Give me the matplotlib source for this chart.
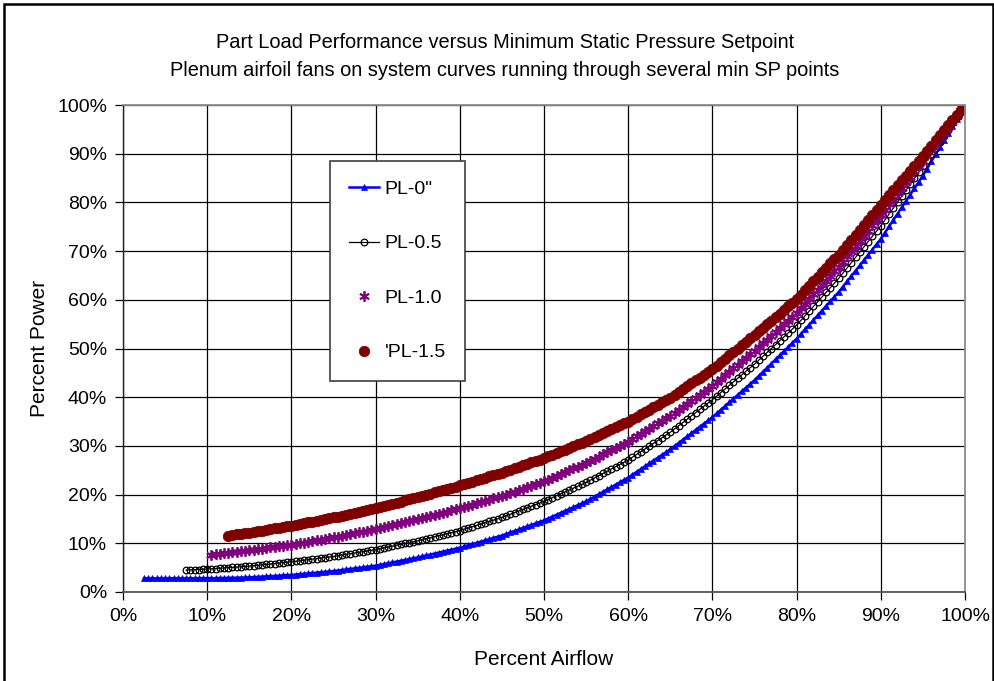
import numpy as np
import matplotlib
matplotlib.use("Agg")
import matplotlib.pyplot as plt
from matplotlib.ticker import FuncFormatter
from matplotlib.patches import Rectangle

plt.rcParams['font.family'] = ['Liberation Sans', 'DejaVu Sans']

# ---------------- data (percent airflow step 0.5 %, percent power) ----------------
title_lines = ["Part Load Performance versus Minimum Static Pressure Setpoint",
               "Plenum airfoil fans on system curves running through several min SP points"]
series_names = ['PL-0"', "PL-0.5", "PL-1.0", "'PL-1.5"]
airflow_start = [2.5, 7.5, 10.5, 12.5]   # first airflow point of each series (%)
airflow_step = 0.5

power_pl0 = [
    2.8, 2.8, 2.8, 2.8, 2.8, 2.8, 2.8, 2.8, 2.8, 2.8, 2.8, 2.8, 2.8, 2.8, 2.8, 2.8,
    2.82, 2.84, 2.86, 2.88, 2.9, 2.92, 2.94, 2.96, 2.98, 3.0,
    3.05, 3.1, 3.15, 3.2, 3.25, 3.3, 3.35, 3.4, 3.45, 3.5,
    3.58, 3.66, 3.74, 3.82, 3.9, 3.98, 4.06, 4.14, 4.22, 4.3,
    4.41, 4.52, 4.63, 4.74, 4.85, 4.96, 5.07, 5.18, 5.29, 5.4,
    5.57, 5.74, 5.91, 6.08, 6.25, 6.42, 6.59, 6.76, 6.93, 7.1,
    7.3, 7.5, 7.7, 7.9, 8.1, 8.3, 8.5, 8.7, 8.9, 9.1,
    9.35, 9.6, 9.85, 10.1, 10.35, 10.6, 10.85, 11.1, 11.35, 11.6,
    11.91, 12.22, 12.53, 12.84, 13.15, 13.46, 13.77, 14.08, 14.39, 14.7,
    15.09, 15.48, 15.87, 16.26, 16.65, 17.04, 17.43, 17.82, 18.21, 18.6,
    19.09, 19.58, 20.07, 20.56, 21.05, 21.54, 22.03, 22.52, 23.01, 23.5,
    24.08, 24.66, 25.24, 25.82, 26.4, 26.98, 27.56, 28.14, 28.72, 29.3,
    29.96, 30.62, 31.28, 31.94, 32.6, 33.26, 33.92, 34.58, 35.24, 35.9,
    36.66, 37.42, 38.18, 38.94, 39.7, 40.46, 41.22, 41.98, 42.74, 43.5,
    44.35, 45.2, 46.05, 46.9, 47.75, 48.6, 49.45, 50.3, 51.15, 52.0,
    52.96, 53.92, 54.88, 55.84, 56.8, 57.76, 58.72, 59.68, 60.64, 61.6,
    62.69, 63.78, 64.87, 65.96, 67.05, 68.14, 69.23, 70.32, 71.41, 72.5,
    73.8, 75.1, 76.4, 77.7, 79.0, 80.3, 81.6, 82.9, 84.2, 85.5,
    86.95, 88.4, 89.85, 91.3, 92.75, 94.2, 95.65, 97.1, 98.55, 100.0,
]

power_pl05 = [
    4.5, 4.54, 4.58, 4.62, 4.66, 4.7,
    4.76, 4.82, 4.88, 4.94, 5.0, 5.06, 5.12, 5.18, 5.24, 5.3,
    5.39, 5.48, 5.57, 5.66, 5.75, 5.84, 5.93, 6.02, 6.11, 6.2,
    6.31, 6.42, 6.53, 6.64, 6.75, 6.86, 6.97, 7.08, 7.19, 7.3,
    7.44, 7.58, 7.72, 7.86, 8.0, 8.14, 8.28, 8.42, 8.56, 8.7,
    8.88, 9.06, 9.24, 9.42, 9.6, 9.78, 9.96, 10.14, 10.32, 10.5,
    10.71, 10.92, 11.13, 11.34, 11.55, 11.76, 11.97, 12.18, 12.39, 12.6,
    12.87, 13.14, 13.41, 13.68, 13.95, 14.22, 14.49, 14.76, 15.03, 15.3,
    15.63, 15.96, 16.29, 16.62, 16.95, 17.28, 17.61, 17.94, 18.27, 18.6,
    18.99, 19.38, 19.77, 20.16, 20.55, 20.94, 21.33, 21.72, 22.11, 22.5,
    22.96, 23.42, 23.88, 24.34, 24.8, 25.26, 25.72, 26.18, 26.64, 27.1,
    27.67, 28.24, 28.81, 29.38, 29.95, 30.52, 31.09, 31.66, 32.23, 32.8,
    33.47, 34.14, 34.81, 35.48, 36.15, 36.82, 37.49, 38.16, 38.83, 39.5,
    40.23, 40.96, 41.69, 42.42, 43.15, 43.88, 44.61, 45.34, 46.07, 46.8,
    47.6, 48.4, 49.2, 50.0, 50.8, 51.6, 52.4, 53.2, 54.0, 54.8,
    55.76, 56.72, 57.68, 58.64, 59.6, 60.56, 61.52, 62.48, 63.44, 64.4,
    65.48, 66.56, 67.64, 68.72, 69.8, 70.88, 71.96, 73.04, 74.12, 75.2,
    76.42, 77.64, 78.86, 80.08, 81.3, 82.52, 83.74, 84.96, 86.18, 87.4,
    88.66, 89.92, 91.18, 92.44, 93.7, 94.96, 96.22, 97.48, 98.74, 100.0,
]

power_pl10 = [
    7.7,
    7.8, 7.9, 8.0, 8.1, 8.2, 8.3, 8.4, 8.5, 8.6,
    8.71, 8.82, 8.93, 9.04, 9.15, 9.26, 9.37, 9.48, 9.59, 9.7,
    9.85, 10.0, 10.15, 10.3, 10.45, 10.6, 10.75, 10.9, 11.05, 11.2,
    11.37, 11.54, 11.71, 11.88, 12.05, 12.22, 12.39, 12.56, 12.73, 12.9,
    13.1, 13.3, 13.5, 13.7, 13.9, 14.1, 14.3, 14.5, 14.7, 14.9,
    15.13, 15.36, 15.59, 15.82, 16.05, 16.28, 16.51, 16.74, 16.97, 17.2,
    17.45, 17.7, 17.95, 18.2, 18.45, 18.7, 18.95, 19.2, 19.45, 19.7,
    20.0, 20.3, 20.6, 20.9, 21.2, 21.5, 21.8, 22.1, 22.4, 22.7,
    23.08, 23.46, 23.84, 24.22, 24.6, 24.98, 25.36, 25.74, 26.12, 26.5,
    26.94, 27.38, 27.82, 28.26, 28.7, 29.14, 29.58, 30.02, 30.46, 30.9,
    31.43, 31.96, 32.49, 33.02, 33.55, 34.08, 34.61, 35.14, 35.67, 36.2,
    36.81, 37.42, 38.03, 38.64, 39.25, 39.86, 40.47, 41.08, 41.69, 42.3,
    43.02, 43.74, 44.46, 45.18, 45.9, 46.62, 47.34, 48.06, 48.78, 49.5,
    50.28, 51.06, 51.84, 52.62, 53.4, 54.18, 54.96, 55.74, 56.52, 57.3,
    58.25, 59.2, 60.15, 61.1, 62.05, 63.0, 63.95, 64.9, 65.85, 66.8,
    67.86, 68.92, 69.98, 71.04, 72.1, 73.16, 74.22, 75.28, 76.34, 77.4,
    78.52, 79.64, 80.76, 81.88, 83.0, 84.12, 85.24, 86.36, 87.48, 88.6,
    89.74, 90.88, 92.02, 93.16, 94.3, 95.44, 96.58, 97.72, 98.86, 100.0,
]

power_pl15 = [
    11.6,
    11.72, 11.84, 11.96, 12.08, 12.2,
    12.34, 12.48, 12.62, 12.76, 12.9, 13.04, 13.18, 13.32, 13.46, 13.6,
    13.77, 13.94, 14.11, 14.28, 14.45, 14.62, 14.79, 14.96, 15.13, 15.3,
    15.49, 15.68, 15.87, 16.06, 16.25, 16.44, 16.63, 16.82, 17.01, 17.2,
    17.43, 17.66, 17.89, 18.12, 18.35, 18.58, 18.81, 19.04, 19.27, 19.5,
    19.74, 19.98, 20.22, 20.46, 20.7, 20.94, 21.18, 21.42, 21.66, 21.9,
    22.16, 22.42, 22.68, 22.94, 23.2, 23.46, 23.72, 23.98, 24.24, 24.5,
    24.8, 25.1, 25.4, 25.7, 26.0, 26.3, 26.6, 26.9, 27.2, 27.5,
    27.85, 28.2, 28.55, 28.9, 29.25, 29.6, 29.95, 30.3, 30.65, 31.0,
    31.4, 31.8, 32.2, 32.6, 33.0, 33.4, 33.8, 34.2, 34.6, 35.0,
    35.49, 35.98, 36.47, 36.96, 37.45, 37.94, 38.43, 38.92, 39.41, 39.9,
    40.49, 41.08, 41.67, 42.26, 42.85, 43.44, 44.03, 44.62, 45.21, 45.8,
    46.5, 47.2, 47.9, 48.6, 49.3, 50.0, 50.7, 51.4, 52.1, 52.8,
    53.53, 54.26, 54.99, 55.72, 56.45, 57.18, 57.91, 58.64, 59.37, 60.1,
    61.02, 61.94, 62.86, 63.78, 64.7, 65.62, 66.54, 67.46, 68.38, 69.3,
    70.31, 71.32, 72.33, 73.34, 74.35, 75.36, 76.37, 77.38, 78.39, 79.4,
    80.42, 81.44, 82.46, 83.48, 84.5, 85.52, 86.54, 87.56, 88.58, 89.6,
    90.64, 91.68, 92.72, 93.76, 94.8, 95.84, 96.88, 97.92, 98.96, 100.0,
]

x_ticks = [0, 10, 20, 30, 40, 50, 60, 70, 80, 90, 100]
y_ticks = [0, 10, 20, 30, 40, 50, 60, 70, 80, 90, 100]

# ---------------- figure ----------------
W, H = 995, 681
fig = plt.figure(figsize=(W / 100, H / 100), dpi=100)
fig.patch.set_facecolor("white")

L, R, T, B = 123, 965, 105, 592
ax = fig.add_axes([L / W, 1 - B / H, (R - L) / W, (B - T) / H])

styles = [
    dict(color="#0000FF", lw=1.8, marker="^", ms=3.8, mfc="#0000FF", mec="#0000FF", mew=0.5),
    dict(color="#000000", lw=0.9, marker="o", ms=4.8, mfc="none", mec="#000000", mew=0.9),
    dict(color="#800080", lw=0, marker=(6, 2, 0), ms=7.5, mec="#800080", mew=1.3),
    dict(color="#800000", lw=0, marker="o", ms=7.6, mfc="#800000", mec="#800000", mew=0.5),
]
all_power = [power_pl0, power_pl05, power_pl10, power_pl15]

handles = []
for name, start, pw, st in zip(series_names, airflow_start, all_power, styles):
    x = start + airflow_step * np.arange(len(pw))
    h, = ax.plot(x, pw, label=name, linestyle="-" if st["lw"] > 0 else "None", **st)
    handles.append(h)

ax.set_xlim(0, 100)
ax.set_ylim(0, 100)
ax.set_xticks(x_ticks)
ax.set_yticks(y_ticks)
pct = FuncFormatter(lambda v, p: f"{v:.0f}%")
ax.xaxis.set_major_formatter(pct)
ax.yaxis.set_major_formatter(pct)
ax.tick_params(axis="both", direction="out", length=5.5, width=0.9, labelsize=14,
               colors="black", pad=6)
ax.grid(True, color="black", lw=0.9)
ax.set_axisbelow(True)
for side in ["top", "right"]:
    ax.spines[side].set_color("#8c8c8c")
    ax.spines[side].set_linewidth(1.3)
ax.spines["bottom"].set_color("#555555")
ax.spines["bottom"].set_linewidth(1.3)
ax.spines["left"].set_color("#222222")
ax.spines["left"].set_linewidth(1.0)

ax.set_xlabel("Percent Airflow", fontsize=15, labelpad=18)
ax.set_ylabel("Percent Power", fontsize=15, labelpad=6)

fig.text(505 / W, 1 - 43 / H, title_lines[0], ha="center", va="center", fontsize=14.4)
fig.text(505 / W, 1 - 70 / H, title_lines[1], ha="center", va="center", fontsize=14.4)

leg = ax.legend(handles=handles, loc="upper left",
                bbox_to_anchor=((330 - L) / (R - L), (B - 160.7) / (B - T)),
                borderaxespad=0, fontsize=14, frameon=True, fancybox=False,
                edgecolor="#404040", framealpha=1, borderpad=1.0,
                labelspacing=1.9, handlelength=1.5, handletextpad=0.3, numpoints=1)
leg.get_frame().set_linewidth(1.2)

# outer chart border
fig.patches.append(Rectangle((4 / W, -0.05), (993 - 4) / W, 1.05 - 4 / H,
                             transform=fig.transFigure, fill=False,
                             edgecolor="black", lw=1.8))

fig.savefig("out.png", dpi=100, facecolor="white")
